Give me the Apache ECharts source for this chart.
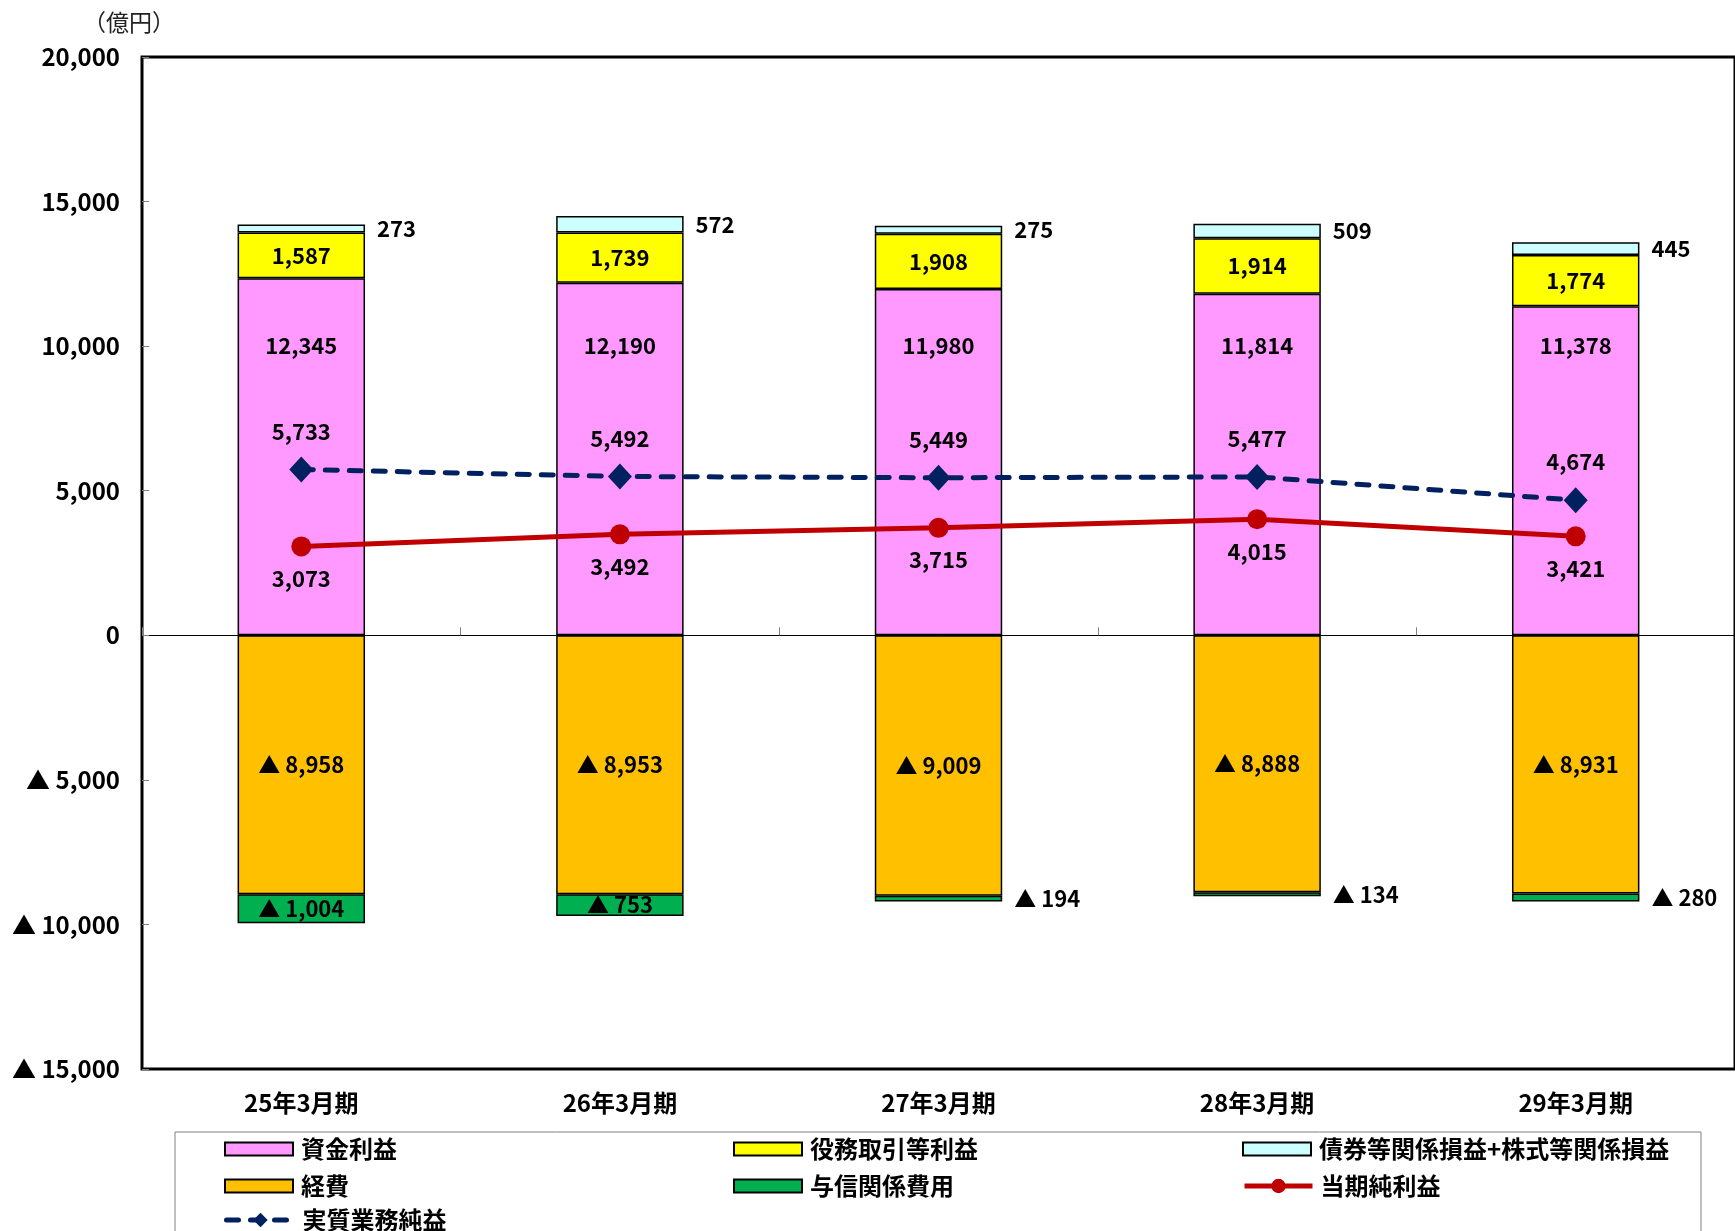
<!DOCTYPE html>
<html>
<head>
<meta charset="utf-8">
<script src="https://cdn.jsdelivr.net/npm/echarts@6/dist/echarts.min.js"></script>
<style>html,body{margin:0;padding:0;background:#fff;}#c{width:1735px;height:1231px;}</style>
</head>
<body>
<div id="c"></div>
<script>
const categories = ['25年3月期', '26年3月期', '27年3月期', '28年3月期', '29年3月期'];
const fundIncome = [12345, 12190, 11980, 11814, 11378];          // 資金利益
const feeIncome = [1587, 1739, 1908, 1914, 1774];                // 役務取引等利益
const securitiesGain = [273, 572, 275, 509, 445];                // 債券等関係損益+株式等関係損益
const expenses = [-8958, -8953, -9009, -8888, -8931];            // 経費
const creditCost = [-1004, -753, -194, -134, -280];              // 与信関係費用
const netIncome = [3073, 3492, 3715, 4015, 3421];                // 当期純利益
const coreProfit = [5733, 5492, 5449, 5477, 4674];               // 実質業務純益
const yTicks = { min: -15000, max: 20000, interval: 5000 };

const FONT = "'Noto Sans CJK JP', 'Noto Sans', sans-serif";
const fmt = v => (v < 0 ? '▲ ' : '') + Math.abs(v).toLocaleString('en-US');
const lbl = (extra) => Object.assign({
  show: true, color: '#000', fontFamily: FONT, fontWeight: 'bold', fontSize: 22,
  formatter: p => fmt(p.value)
}, extra || {});
const barItem = color => ({ color: color, borderColor: '#000', borderWidth: 1.5 });

const chart = echarts.init(document.getElementById('c'));
const legendBase = (name, left, top, icon) => {
  const l = {
    data: [name], left: left, top: top, orient: 'horizontal',
    itemWidth: 68, itemHeight: 13, itemGap: 0,
    textStyle: { fontFamily: FONT, fontWeight: 'bold', fontSize: 24, color: '#000', padding: [0, 0, 0, 3] }
  };
  if (icon) { l.icon = icon; } else { l.itemHeight = 18; l.lineStyle = { width: 5 }; }
  return l;
};

chart.setOption({
  animation: false,
  backgroundColor: '#fff',
  title: { text: '（億円）', left: 78, top: 6, textStyle: { fontFamily: FONT, fontWeight: 'normal', fontSize: 23, color: '#222' } },
  grid: { left: 142, top: 57, width: 1597, height: 1012, show: true, borderColor: '#000', borderWidth: 3, backgroundColor: 'transparent' },
  legend: [
    legendBase('資金利益', 219, 1132, 'rect'),
    legendBase('役務取引等利益', 728, 1132, 'rect'),
    legendBase('債券等関係損益+株式等関係損益', 1237, 1132, 'rect'),
    legendBase('経費', 219, 1169, 'rect'),
    legendBase('与信関係費用', 728, 1169, 'rect'),
    legendBase('当期純利益', 1237, 1169),
    legendBase('実質業務純益', 219, 1203)
  ],
  graphic: [{
    type: 'rect', z: -1, shape: { x: 175, y: 1132, width: 1526, height: 140 },
    style: { fill: 'none', stroke: '#808080', lineWidth: 1 }
  }],
  xAxis: [{
    type: 'category', data: categories, position: 'bottom',
    axisLine: { show: false, onZero: false }, axisTick: { show: false },
    axisLabel: { margin: 22, color: '#000', fontFamily: FONT, fontWeight: 'bold', fontSize: 24 }
  }, {
    type: 'category', data: categories, position: 'bottom',
    axisLine: { show: true, onZero: true, lineStyle: { color: '#000', width: 1 } },
    axisTick: { show: true, inside: true, length: 8, lineStyle: { color: '#808080' } },
    axisLabel: { show: false }
  }],
  yAxis: {
    type: 'value', min: yTicks.min, max: yTicks.max, interval: yTicks.interval,
    axisLine: { show: false }, splitLine: { show: false },
    axisTick: { show: true, inside: true, length: 7, lineStyle: { color: '#808080' } },
    axisLabel: { margin: 22, color: '#000', fontFamily: FONT, fontWeight: 'bold', fontSize: 24, formatter: v => fmt(v) }
  },
  series: [
    { name: '資金利益', type: 'bar', stack: 'a', barWidth: '40%', data: fundIncome,
      itemStyle: barItem('#FF99FF'), label: lbl({ position: 'insideBottom', distance: 279 }) },
    { name: '役務取引等利益', type: 'bar', stack: 'a', data: feeIncome,
      itemStyle: barItem('#FFFF00'), label: lbl({ position: 'inside' }) },
    { name: '債券等関係損益+株式等関係損益', type: 'bar', stack: 'a', data: securitiesGain,
      itemStyle: barItem('#CCFFFF'), label: lbl({ position: 'right', distance: 12 }) },
    { name: '経費', type: 'bar', stack: 'a', data: expenses,
      itemStyle: barItem('#FFC000'), label: lbl({ position: 'inside' }) },
    { name: '与信関係費用', type: 'bar', stack: 'a',
      data: creditCost.map(v => Math.abs(v) < 500 ? { value: v, label: { position: 'right', distance: 12 } } : v),
      itemStyle: barItem('#00B050'), label: lbl({ position: 'inside' }) },
    { name: '当期純利益', type: 'line', data: netIncome, symbol: 'circle', symbolSize: 20,
      lineStyle: { color: '#C00000', width: 5 }, itemStyle: { color: '#C00000' },
      label: lbl({ position: 'bottom', distance: 11 }), z: 5 },
    { name: '実質業務純益', type: 'line', data: coreProfit, symbol: 'diamond', symbolSize: [24, 26],
      lineStyle: { color: '#002060', width: 5, type: [12, 12], cap: 'round' }, itemStyle: { color: '#002060' },
      label: lbl({ position: 'top', distance: 14 }), z: 5 }
  ]
});
</script>
</body>
</html>
